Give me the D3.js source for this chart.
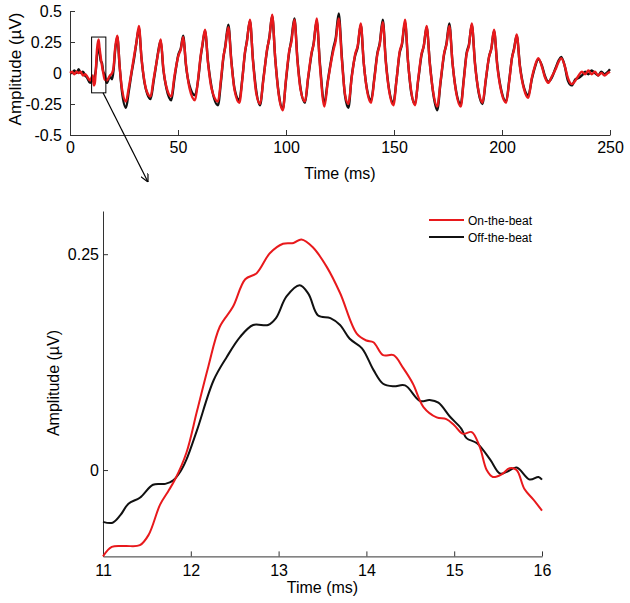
<!DOCTYPE html>
<html>
<head>
<meta charset="utf-8">
<script src="https://cdn.jsdelivr.net/npm/d3@7"></script>
<style>
  html, body { margin: 0; padding: 0; background: #fff; }
  svg { display: block; font-family: "Liberation Sans", Arial, sans-serif; }
</style>
</head>
<body>
<svg id="chart" width="630" height="603"></svg>
<script>
// ---------- Top panel data (full response, 0-250 ms) ----------
const topTime = [
  0, 1, 2, 3, 4, 5, 6, 7, 8, 9.3, 10.5,
  11, 11.5, 12, 12.5, 13.25, 13.7, 14.2, 14.8, 15.4, 16, 17, 18.5, 19.5,
  20.2, 20.9, 21.9, 23.0, 24.0, 25.9, 27.2, 28.5,
  29.8, 30.7, 31.9, 33.1, 34.5, 35.8, 37.3, 38.7,
  40.1, 41.1, 42.0, 43.2, 44.6, 46.9, 48.4,
  50.2, 51.3, 52.4, 53.7, 55.3, 57.9, 59.3,
  60.5, 61.3, 62.5, 63.9, 65.6, 68.5, 69.9,
  71.0, 71.9, 73.3, 74.7, 76.2, 78.4, 79.8,
  81.0, 81.9, 83.3, 84.7, 86.2, 88.0, 89.5,
  91.3, 92.3, 93.6, 95.0, 96.6, 98.5, 100.0,
  101.5, 102.5, 103.9, 105.3, 106.8, 108.8, 110.2,
  111.9, 112.8, 114.2, 115.7, 117.8, 119.3,
  121.9, 123.0, 124.4, 125.9, 127.3, 128.9, 130.4,
  132.0, 133.2, 134.6, 136.0, 137.6, 139.4, 140.9,
  142.3, 143.4, 144.8, 146.2, 147.8, 149.7, 151.2,
  152.6, 153.7, 155.1, 156.5, 158.0, 159.7, 161.2,
  162.7, 163.8, 165.1, 166.6, 168.2, 170.0, 171.6,
  173.2, 174.3, 175.6, 177.1, 178.8, 180.9, 182.3,
  183.6, 184.7, 186.0, 187.5, 189.2, 191.0, 192.5,
  194.0, 195.1, 196.3, 197.8, 199.8, 201.9, 203.4,
  204.6, 205.6, 206.8, 208.3, 210.2, 212.2, 213.8,
  215.3, 216.8, 218.5, 219.8, 221.4, 223.0,
  224.8, 226.2, 227.4, 229.0, 230.5, 232.3,
  234, 235.5, 237, 238.5, 240, 241.5, 243, 244.5, 246, 247.5, 249, 250
];
const topOnBeat = [
  0.0, 0.01, -0.01, 0.01, 0.0, 0.01, -0.02, -0.01, -0.03, -0.06, -0.02,
  -0.10, -0.08, 0.04, 0.19, 0.27, 0.20, 0.13, 0.06, 0.0, -0.05, -0.06, -0.02, 0.0,
  0.05, 0.20, 0.30, 0.05, -0.12, -0.23, -0.12, 0.01,
  0.15, 0.24, 0.38, 0.12, -0.07, -0.16, -0.19, -0.05,
  0.09, 0.19, 0.27, 0.04, -0.11, -0.19, -0.02,
  0.14, 0.19, 0.29, 0.07, -0.12, -0.22, -0.05,
  0.14, 0.23, 0.35, 0.08, -0.13, -0.23, -0.05,
  0.13, 0.21, 0.37, 0.09, -0.14, -0.24, -0.05,
  0.17, 0.25, 0.43, 0.10, -0.16, -0.25, -0.06,
  0.20, 0.28, 0.47, 0.12, -0.17, -0.30, -0.05,
  0.18, 0.25, 0.43, 0.10, -0.14, -0.23, -0.04,
  0.17, 0.23, 0.44, 0.06, -0.27, -0.08,
  0.18, 0.26, 0.44, 0.10, -0.17, -0.25, -0.04,
  0.15, 0.22, 0.40, 0.08, -0.15, -0.24, -0.05,
  0.15, 0.23, 0.41, 0.09, -0.15, -0.26, -0.05,
  0.17, 0.24, 0.43, 0.09, -0.15, -0.26, -0.05,
  0.15, 0.22, 0.38, 0.07, -0.16, -0.27, -0.06,
  0.16, 0.23, 0.38, 0.08, -0.16, -0.27, -0.06,
  0.15, 0.22, 0.40, 0.07, -0.15, -0.24, -0.05,
  0.13, 0.20, 0.35, 0.06, -0.16, -0.24, -0.06,
  0.12, 0.19, 0.31, 0.05, -0.13, -0.20, -0.04,
  0.06, 0.12, 0.05, -0.03, -0.08, -0.03,
  0.03, 0.09, 0.12, 0.06, -0.04, -0.09,
  -0.06, -0.02, 0.01, -0.01, 0.02, -0.01, 0.01, -0.02, 0.0, -0.02, 0.0, 0.01
];
const topOffBeat = [
  0.0, 0.0, 0.02, 0.0, 0.03, 0.0, 0.01, -0.02, -0.04, -0.08, -0.05,
  -0.06, -0.02, 0.03, 0.14, 0.21, 0.17, 0.10, 0.08, 0.01, -0.01, -0.08, -0.03, -0.05,
  0.03, 0.18, 0.29, 0.05, -0.14, -0.28, -0.15, 0.0,
  0.13, 0.24, 0.36, 0.12, -0.08, -0.17, -0.21, -0.07,
  0.09, 0.20, 0.26, 0.03, -0.12, -0.22, -0.04,
  0.15, 0.20, 0.30, 0.06, -0.10, -0.18, -0.06,
  0.13, 0.22, 0.34, 0.09, -0.12, -0.26, -0.07,
  0.12, 0.22, 0.39, 0.10, -0.13, -0.22, -0.04,
  0.16, 0.26, 0.42, 0.11, -0.14, -0.26, -0.05,
  0.19, 0.29, 0.46, 0.12, -0.16, -0.29, -0.06,
  0.17, 0.27, 0.44, 0.11, -0.13, -0.24, -0.05,
  0.16, 0.24, 0.42, 0.08, -0.24, -0.07,
  0.20, 0.28, 0.48, 0.12, -0.18, -0.28, -0.03,
  0.14, 0.21, 0.39, 0.08, -0.14, -0.22, -0.04,
  0.16, 0.24, 0.43, 0.10, -0.14, -0.24, -0.05,
  0.16, 0.23, 0.41, 0.09, -0.16, -0.25, -0.06,
  0.14, 0.22, 0.37, 0.08, -0.17, -0.30, -0.07,
  0.15, 0.24, 0.40, 0.08, -0.15, -0.25, -0.05,
  0.16, 0.23, 0.39, 0.08, -0.16, -0.25, -0.06,
  0.13, 0.20, 0.34, 0.07, -0.15, -0.23, -0.05,
  0.12, 0.20, 0.30, 0.06, -0.12, -0.18, -0.05,
  0.05, 0.11, 0.06, -0.02, -0.07, -0.04,
  0.04, 0.10, 0.13, 0.06, -0.06, -0.10,
  -0.05, -0.04, -0.02, 0.01, -0.01, 0.02, 0.0, -0.02, 0.01, -0.01, 0.01, 0.03
];
const topXTicks = [0, 50, 100, 150, 200, 250];
const topYTicks = [-0.5, -0.25, 0, 0.25, 0.5];
const topYTickLabels = ["-0.5", "-0.25", "0", "0.25", "0.5"];
const zoomBox = { t0: 10, t1: 16.6, v0: -0.16, v1: 0.29 };

// ---------- Bottom panel data (zoom 11-16 ms) ----------
const onTime = [11.0, 11.1, 11.25, 11.42, 11.52, 11.65, 11.74, 11.82, 11.95, 12.07, 12.2, 12.33, 12.48,
  12.62, 12.75, 12.9, 13.05, 13.17, 13.26, 13.39, 13.55, 13.7, 13.89, 14.0, 14.08, 14.19, 14.31,
  14.42, 14.53, 14.65, 14.8, 14.91, 15.0, 15.1, 15.2, 15.29, 15.37, 15.44, 15.54, 15.63, 15.71,
  15.8, 15.9, 16.0];
const onVal = [-0.100, -0.089, -0.088, -0.087, -0.075, -0.040, -0.025, -0.011, 0.020, 0.068, 0.120, 0.166, 0.189,
  0.221, 0.228, 0.251, 0.262, 0.263, 0.267, 0.258, 0.235, 0.205, 0.158, 0.150, 0.148, 0.133, 0.133,
  0.118, 0.100, 0.073, 0.061, 0.059, 0.052, 0.042, 0.044, 0.027, 0.000, -0.008, -0.005, 0.002, 0.000,
  -0.022, -0.034, -0.047];
const offTime = [11.0, 11.11, 11.2, 11.29, 11.42, 11.57, 11.71, 11.8, 11.88, 11.95, 12.07, 12.26, 12.41,
  12.56, 12.71, 12.88, 12.97, 13.09, 13.24, 13.34, 13.45, 13.59, 13.7, 13.81, 13.95, 14.08, 14.19,
  14.31, 14.44, 14.61, 14.72, 14.82, 14.95, 15.08, 15.14, 15.26, 15.41, 15.52, 15.6, 15.71, 15.86,
  15.96, 16.0];
const offVal = [-0.060, -0.061, -0.052, -0.039, -0.032, -0.017, -0.016, -0.012, -0.002, 0.012, 0.046, 0.104, 0.131,
  0.154, 0.168, 0.168, 0.176, 0.201, 0.214, 0.204, 0.179, 0.176, 0.168, 0.152, 0.141, 0.116, 0.100,
  0.097, 0.098, 0.080, 0.081, 0.078, 0.062, 0.048, 0.037, 0.031, 0.012, -0.004, -0.002, 0.003, -0.011,
  -0.008, -0.011];
const botXTicks = [11, 12, 13, 14, 15, 16];
const botYTicks = [0, 0.25];
const botYTickLabels = ["0", "0.25"];
const legendLabels = ["On-the-beat", "Off-the-beat"];
const seriesColors = ["#e8191c", "#111111"];

// ---------- Drawing ----------
const svg = d3.select("#chart");
const axisColor = "#333333";

function styleAxis(g, fontSize) {
  g.select(".domain").attr("stroke", axisColor).attr("stroke-width", 1);
  g.selectAll(".tick line").attr("stroke", axisColor);
  g.selectAll(".tick text").attr("fill", "#000").attr("font-size", fontSize)
    .attr("font-family", "Liberation Sans, Arial, sans-serif");
}

// Top panel
const xTop = d3.scaleLinear().domain([0, 250]).range([70, 610]);
const yTop = d3.scaleLinear().domain([-0.5, 0.5]).range([135, 11]);

const gTopX = svg.append("g").attr("transform", `translate(0,${yTop(-0.5)})`)
  .call(d3.axisBottom(xTop).tickValues(topXTicks).tickFormat(d3.format("d"))
    .tickSizeInner(-5).tickSizeOuter(0).tickPadding(7));
styleAxis(gTopX, 16);
const gTopY = svg.append("g").attr("transform", `translate(${xTop(0)},0)`)
  .call(d3.axisLeft(yTop).tickValues(topYTicks).tickFormat((d, i) => topYTickLabels[i])
    .tickSizeInner(-5).tickSizeOuter(0).tickPadding(8));
styleAxis(gTopY, 16);

const topLine = (vals) => d3.line()
  .x((d, i) => xTop(topTime[i])).y(d => yTop(d))
  .curve(d3.curveMonotoneX)(vals);

svg.append("path").attr("d", topLine(topOffBeat)).attr("fill", "none")
  .attr("stroke", seriesColors[1]).attr("stroke-width", 2.4).attr("stroke-linejoin", "round");
svg.append("path").attr("d", topLine(topOnBeat)).attr("fill", "none")
  .attr("stroke", seriesColors[0]).attr("stroke-width", 2.4).attr("stroke-linejoin", "round");

// zoom box
svg.append("rect")
  .attr("x", xTop(zoomBox.t0)).attr("y", yTop(zoomBox.v1))
  .attr("width", xTop(zoomBox.t1) - xTop(zoomBox.t0))
  .attr("height", yTop(zoomBox.v0) - yTop(zoomBox.v1))
  .attr("fill", "none").attr("stroke", "#000").attr("stroke-width", 1);

svg.append("text").attr("x", (xTop(0) + xTop(250)) / 2).attr("y", 179)
  .attr("text-anchor", "middle").attr("font-size", 16).text("Time (ms)");
svg.append("text").attr("transform", `translate(21,${yTop(0) - 4}) rotate(-90)`)
  .attr("text-anchor", "middle").attr("font-size", 17).text("Amplitude (\u00b5V)");

// arrow
svg.append("defs").append("marker").attr("id", "arrowhead")
  .attr("viewBox", "0 0 10 10").attr("refX", 10).attr("refY", 5)
  .attr("markerWidth", 8).attr("markerHeight", 8).attr("markerUnits", "userSpaceOnUse")
  .attr("orient", "auto")
  .append("path").attr("d", "M0,0 L10,5 L0,10").attr("fill", "none").attr("stroke", "#000").attr("stroke-width", 1.5);
svg.append("line")
  .attr("x1", xTop(15.3)).attr("y1", yTop(zoomBox.v0))
  .attr("x2", 148).attr("y2", 182)
  .attr("stroke", "#000").attr("stroke-width", 1.2).attr("marker-end", "url(#arrowhead)");

// Bottom panel
const xBot = d3.scaleLinear().domain([11, 16]).range([103, 542]);
const yBot = d3.scaleLinear().domain([-0.1, 0.3]).range([556.4, 211]);

const gBotX = svg.append("g").attr("transform", `translate(0,${yBot(-0.1)})`)
  .call(d3.axisBottom(xBot).tickValues(botXTicks).tickFormat(d3.format("d"))
    .tickSizeInner(-5).tickSizeOuter(0).tickPadding(8));
styleAxis(gBotX, 16);
const gBotY = svg.append("g").attr("transform", `translate(${xBot(11)},0)`)
  .call(d3.axisLeft(yBot).tickValues(botYTicks).tickFormat((d, i) => botYTickLabels[i])
    .tickSizeInner(-5).tickSizeOuter(0).tickPadding(4));
styleAxis(gBotY, 16);

const botLine = (ts, vs) => d3.line()
  .x((d, i) => xBot(ts[i])).y(d => yBot(d))
  .curve(d3.curveCatmullRom.alpha(0.5))(vs);

svg.append("path").attr("d", botLine(offTime, offVal)).attr("fill", "none")
  .attr("stroke", seriesColors[1]).attr("stroke-width", 2);
svg.append("path").attr("d", botLine(onTime, onVal)).attr("fill", "none")
  .attr("stroke", seriesColors[0]).attr("stroke-width", 2);

svg.append("text").attr("x", (xBot(11) + xBot(16)) / 2).attr("y", 593)
  .attr("text-anchor", "middle").attr("font-size", 16).text("Time (ms)");
svg.append("text").attr("transform", `translate(59,383) rotate(-90)`)
  .attr("text-anchor", "middle").attr("font-size", 16).text("Amplitude (\u00b5V)");

// legend
const leg = svg.append("g").attr("transform", "translate(429,220)");
legendLabels.forEach((lab, i) => {
  const row = leg.append("g").attr("transform", `translate(0,${i * 17})`);
  row.append("line").attr("x1", 0).attr("x2", 35).attr("y1", 0).attr("y2", 0)
    .attr("stroke", seriesColors[i]).attr("stroke-width", 2);
  row.append("text").attr("x", 39).attr("y", 4.5).attr("font-size", 12).text(lab);
});
</script>
</body>
</html>
